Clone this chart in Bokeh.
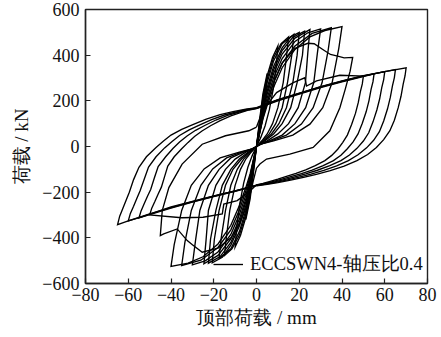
from bokeh.plotting import figure
from bokeh.models import Legend, LegendItem, FixedTicker, Range1d
from bokeh.embed import file_html
from bokeh.resources import INLINE

x_ticks = [-80, -60, -40, -20, 0, 20, 40, 60, 80]
x_tick_labels = ["−80", "−60", "−40", "−20", "0", "20", "40", "60", "80"]
y_ticks = [-600, -400, -200, 0, 200, 400, 600]
y_tick_labels = ["−600", "−400", "−200", "0", "200", "400", "600"]

series_label = "ECCSWN4-轴压比0.4"
x_label = "顶部荷载 / mm"
y_label = "荷载 / kN"

loop05_x = [0, 1.5, 3, 5, 4.5, 3.5, 2.3, 1, 0, -1.5, -3, -5, -4.5, -3.5, -2.3, -1, 0]
loop05_y = [0, 120, 230, 320, 250, 170, 100, 40, 0, -120, -230, -320, -250, -170, -100, -40, 0]

loop10_x = [0, 1.5, 3, 5, 7.5, 10, 9.3, 8, 6, 4, 2, 0, -1.5, -3, -5, -7.5, -10, -9.3, -8, -6, -4, -2, 0]
loop10_y = [0, 110, 215, 310, 390, 440, 360, 260, 160, 90, 40, 0, -110, -215, -310, -390, -440, -360, -260, -160, -90, -40, 0]

loop15_x = [0, 1.5, 3, 5, 8, 11.5, 15, 14, 12.5, 10, 7.5, 5, 2.5, 0, -1.5, -3, -5, -8, -11.5, -15, -14, -12.5, -10, -7.5, -5, -2.5, 0]
loop15_y = [0, 100, 200, 295, 390, 450, 480, 390, 280, 170, 100, 55, 25, 0, -100, -200, -295, -388, -448, -478, -390, -280, -170, -100, -55, -25, 0]

loop17_x = [0, 1.5, 3, 5, 8, 12, 17.5, 16.5, 14.5, 12, 9, 6, 3, 0, -1.5, -3, -5, -8, -12, -17.5, -16.5, -14.5, -12, -9, -6, -3, 0]
loop17_y = [0, 95, 190, 280, 375, 450, 491, 400, 280, 170, 100, 55, 25, 0, -95, -190, -280, -373, -448, -490, -400, -280, -170, -100, -55, -25, 0]

loop20_x = [0, 1.5, 3, 5, 8, 12, 16, 20, 19, 17, 14, 10.5, 7, 3.5, 0, -1.5, -3, -5, -8, -12, -16, -20.7, -19.7, -17.5, -14.5, -11, -7, -3.5, 0]
loop20_y = [0, 88, 175, 258, 350, 432, 480, 500, 400, 280, 170, 100, 55, 25, 0, -88, -175, -258, -348, -432, -485, -509, -405, -280, -170, -100, -55, -25, 0]

loop22_x = [0, 1.5, 3, 5, 8, 12, 17, 22.5, 21.5, 19, 16, 12, 8, 4, 0, -1.5, -3, -5, -8, -12, -17, -22.5, -21.5, -19, -16, -12, -8, -4, 0]
loop22_y = [0, 83, 165, 243, 335, 420, 478, 505, 400, 280, 170, 100, 55, 25, 0, -83, -165, -243, -333, -420, -482, -511, -405, -280, -170, -100, -55, -25, 0]

loop25_x = [0, 1.5, 3, 5, 8, 12, 18, 25, 24, 22.9, 19.5, 15, 10, 5, 1.5, 0, -1.5, -3, -5, -8, -12, -18, -24.6, -23.6, -22.5, -19, -14.5, -10, -5, -1.5, 0]
loop25_y = [0, 78, 155, 230, 320, 405, 475, 512, 410, 280, 170, 100, 55, 25, 8, 0, -78, -155, -230, -318, -405, -477, -514, -410, -280, -170, -100, -55, -25, -8, 0]

loop30_x = [0, 1.5, 3, 5, 8, 12, 18, 24, 30, 28.5, 26.8, 23, 18, 12, 6, 2, 0, -1.5, -3, -5, -8, -12, -18, -24, -30, -28.5, -26.5, -22.5, -17.5, -12, -6, -2, 0]
loop30_y = [0, 72, 143, 213, 300, 385, 460, 498, 515, 410, 280, 170, 100, 50, 25, 10, 0, -72, -143, -213, -298, -385, -462, -501, -518, -410, -280, -170, -100, -50, -25, -10, 0]

loop35_x = [0, 1.5, 3, 5, 8, 12, 18, 26, 35, 33.5, 30.7, 26.5, 21, 14, 7, 2, 0, -1.5, -3, -5, -8, -12, -18, -26, -35, -33.5, -30.5, -26, -20.5, -14, -7, -2, 0]
loop35_y = [0, 65, 130, 195, 280, 365, 440, 495, 520, 420, 280, 170, 98, 50, 25, 10, 0, -65, -130, -195, -278, -365, -442, -498, -521, -420, -280, -170, -98, -50, -25, -10, 0]

loop40_x = [0, 1.5, 3, 5, 8, 12, 18, 25, 32, 40, 38.5, 35.4, 31, 25, 17, 8, 2, 0, -1.5, -3, -5, -8, -12, -18, -25, -32, -40, -38.5, -35, -30.5, -24.5, -17, -8, -2, 0]
loop40_y = [0, 60, 120, 180, 260, 345, 425, 480, 508, 525, 430, 280, 170, 98, 50, 25, 10, 0, -60, -120, -180, -258, -345, -427, -483, -511, -525, -430, -280, -170, -98, -50, -25, -10, 0]

loop45_x = [0, 1.5, 3, 5, 8, 12, 18, 24, 27, 31, 34.6, 38, 41, 45, 43.8, 41.5, 39, 34.3, 26.5, 15.6, 4.7, 1.6, 0, -1.5, -3, -5, -8, -12, -18, -25.4, -30, -32.4, -37.1, -43.4, -45, -44.1, -41, -34.8, -25.4, -14.5, -3.6, 0]
loop45_y = [0, 60, 125, 195, 280, 365, 430, 452, 450, 425, 403, 396, 388, 390, 330, 250, 170, 69, -4, -33, -55, -77, -95, -150, -210, -270, -340, -400, -445, -463, -430, -412, -361, -383, -390, -281, -180, -77, 10, 47, 69, 85]

loop50_x = [0, 3, 9.4, 17.2, 22.6, 23.4, 28.1, 39, 50, 49.5, 48.6, 47.6, 46.3, 44.5, 42.5, 40.3, 38, 35.2, 32, 27.5, 23, 18.5, 14, 10, 6, 3, 0, -2.8, -9, -15.3, -16, -25, -35, -50, -49, -47.5, -46, -44.5, -43, -41.5, -38.5, -35, -32, -29, -25.5, -21.5, -17, -12, -7.5, -3.5, 0]
loop50_y = [85, 160, 236, 280, 301, 265, 287, 312, 308, 274, 240, 192, 145, 96, 50, 17, -12, -39, -62, -84, -102, -118, -131, -143, -154, -162, -168, -193, -237, -252, -295, -310, -312, -300, -270, -240, -208, -178, -132, -86, -45, -10, 18, 44, 68, 91, 113, 134, 148, 160, 166]

loop55_x = [0, 10, 20, 30, 40, 55, 54.5, 53.6, 52.6, 51.3, 49.5, 47.5, 45.2, 42.5, 39.5, 36, 31.2, 26, 21, 16, 11.5, 7, 3.5, 0, -10, -20, -30, -40, -55, -54, -52.5, -51, -49.5, -47.8, -46, -42.5, -39, -36, -32.5, -28.5, -24, -19, -13.5, -8.5, -4, 0]
loop55_y = [166, 200, 230, 258, 283, 318, 284, 250, 200, 152, 102, 55, 20, -10, -38, -62, -84, -103, -119, -132, -144, -155, -163, -169, -194, -216, -240, -265, -313, -282, -250, -218, -188, -138, -88, -45, -8, 20, 46, 71, 93, 116, 136, 150, 161, 167]

loop60_x = [0, 10, 20, 30, 40, 50, 60, 59.5, 58.6, 57.6, 56.3, 54.5, 52.5, 50, 47, 43.5, 39.5, 34.3, 28.5, 23, 18, 13, 8, 4, 0, -10, -20, -30, -40, -50, -60, -59, -57.5, -56, -54.5, -52.5, -50.5, -47, -43, -39.5, -36, -31.5, -26.5, -21, -15, -9.5, -4.5, 0]
loop60_y = [167, 203, 232, 260, 285, 308, 328, 293, 258, 208, 160, 108, 60, 24, -8, -37, -62, -84, -104, -120, -133, -145, -156, -164, -170, -195, -218, -242, -268, -295, -326, -293, -262, -228, -195, -142, -90, -45, -6, 22, 48, 73, 95, 118, 138, 151, 162, 168]

loop65_x = [0, 10, 20, 30, 40, 50, 60, 65, 64.5, 63.6, 62.6, 61.3, 59.5, 57.5, 54.8, 51.5, 47.5, 43, 37.5, 31.5, 25.5, 20, 14.5, 9, 4.5, 0, -10, -20, -30, -40, -50, -60, -65, -64, -62.5, -61, -59.5, -57.5, -55, -51.5, -47, -43.5, -40, -35, -29.5, -23.5, -17, -11, -5, 0]
loop65_y = [168, 204, 233, 261, 286, 309, 328, 337, 302, 266, 215, 165, 112, 65, 27, -6, -36, -62, -85, -105, -121, -134, -146, -157, -165, -171, -196, -219, -244, -270, -298, -326, -342, -305, -270, -235, -200, -145, -91, -45, -4, 24, 50, 75, 97, 120, 140, 153, 163, 170]

loop70_x = [0, 10, 20, 30, 40, 50, 60, 70, 69.5, 68.6, 67.6, 66.3, 64.5, 62.4, 59.5, 56.1, 52, 47, 41, 34.5, 28, 22, 16, 10, 5, 0]
loop70_y = [170, 205, 234, 262, 287, 310, 328, 345, 310, 272, 220, 170, 115, 69, 30, -4, -35, -62, -86, -106, -122, -135, -147, -158, -166, -172]

loops = [
    (loop05_x, loop05_y), (loop10_x, loop10_y), (loop15_x, loop15_y),
    (loop17_x, loop17_y), (loop20_x, loop20_y), (loop22_x, loop22_y),
    (loop25_x, loop25_y), (loop30_x, loop30_y), (loop35_x, loop35_y),
    (loop40_x, loop40_y), (loop45_x, loop45_y), (loop50_x, loop50_y),
    (loop55_x, loop55_y), (loop60_x, loop60_y), (loop65_x, loop65_y),
    (loop70_x, loop70_y),
]

SERIF = "Liberation Serif"

p = figure(width=437, height=337, output_backend="svg", toolbar_location=None,
           x_range=Range1d(-80, 80), y_range=Range1d(-600, 600),
           min_border_left=85, min_border_right=10, min_border_top=9,
           min_border_bottom=54)

renderers = []
for lx, ly in loops:
    r = p.line(lx, ly, line_color="black", line_width=1.35, line_join="miter")
    renderers.append(r)

p.xgrid.visible = False
p.ygrid.visible = False
p.outline_line_color = "#222222"
p.outline_line_width = 1.4
p.background_fill_color = "white"
p.border_fill_color = "white"

p.xaxis.ticker = FixedTicker(ticks=x_ticks)
p.yaxis.ticker = FixedTicker(ticks=y_ticks)
p.xaxis.major_label_overrides = {t: s for t, s in zip(x_ticks, x_tick_labels)}
p.yaxis.major_label_overrides = {t: s for t, s in zip(y_ticks, y_tick_labels)}

for ax in (p.xaxis[0], p.yaxis[0]):
    ax.major_tick_in = 5
    ax.major_tick_out = 0
    ax.minor_tick_in = 0
    ax.minor_tick_out = 0
    ax.axis_line_color = "#222222"
    ax.axis_line_width = 1.4
    ax.major_tick_line_color = "#222222"
    ax.major_tick_line_width = 1.2
    ax.major_label_text_font = SERIF
    ax.major_label_text_font_size = "18px"
    ax.major_label_text_color = "#111111"
    ax.axis_label_text_font = SERIF
    ax.axis_label_text_font_size = "19px"
    ax.axis_label_text_font_style = "normal"
    ax.axis_label_text_color = "#111111"

p.xaxis.axis_label = x_label
p.yaxis.axis_label = y_label
p.xaxis.major_label_standoff = 4
p.yaxis.major_label_standoff = 6
p.xaxis.axis_label_standoff = 3
p.yaxis.axis_label_standoff = 7

legend = Legend(items=[LegendItem(label=series_label, renderers=[renderers[0]])],
                location=(128, 7))
legend.border_line_alpha = 0
legend.background_fill_alpha = 0
legend.padding = 0
legend.margin = 0
legend.glyph_width = 30
legend.glyph_height = 20
legend.label_height = 20
legend.label_standoff = 7
legend.label_text_font = SERIF
legend.label_text_font_size = "18.5px"
legend.label_text_color = "#111111"
p.add_layout(legend)

open("out.html", "w").write(file_html(p, INLINE))
